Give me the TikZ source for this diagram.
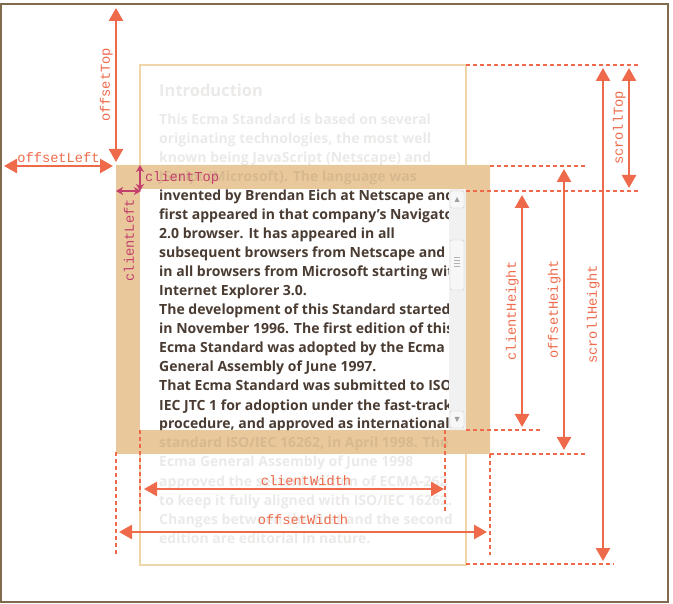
\documentclass[tikz,border=0pt]{standalone}
\usepackage{fontspec}
\setmainfont{Open Sans}
\newfontfamily\labelfont{Liberation Mono}
\usetikzlibrary{arrows.meta}
\definecolor{coral}{RGB}{238,106,74}
\definecolor{crimson}{RGB}{196,64,108}
\definecolor{borderbeige}{RGB}{233,200,155}
\definecolor{frametan}{RGB}{238,214,170}
\definecolor{framebrown}{RGB}{128,106,78}
\definecolor{inktext}{RGB}{74,60,50}
\definecolor{barbg}{RGB}{241,241,241}
\definecolor{barline}{RGB}{204,204,204}

\newcommand{\ecmalines}[2]{%
  \foreach \ln [count=\i] in {{This Ecma Standard is based on several},
    {originating technologies, the most well},
    {known being JavaScript (Netscape) and},
    {JScript (Microsoft). The language was},
    {invented by Brendan Eich at Netscape and},
    {first appeared in that company’s Navigator},
    {2.0 browser. It has appeared in all},
    {subsequent browsers from Netscape and},
    {in all browsers from Microsoft starting with},
    {Internet Explorer 3.0.},
    {The development of this Standard started},
    {in November 1996. The first edition of this},
    {Ecma Standard was adopted by the Ecma},
    {General Assembly of June 1997.},
    {That Ecma Standard was submitted to ISO/},
    {IEC JTC 1 for adoption under the fast-track},
    {procedure, and approved as international},
    {standard ISO/IEC 16262, in April 1998. The},
    {Ecma General Assembly of June 1998},
    {approved the second edition of ECMA-262},
    {to keep it fully aligned with ISO/IEC 16262.},
    {Changes between the first and the second},
    {edition are editorial in nature.}}
    \node[textline,#1] (#2\i) at (159,{106+19*\i}) {\ln};%
}

\begin{document}
\begin{tikzpicture}[x=1pt,y=-1pt,
    textline/.style={anchor=base west,inner sep=0pt,font=\fontsize{14}{16}\selectfont\bfseries},
    faded/.style={text=inktext,text opacity=0.11},
    dim/.style={coral,line width=2.5pt,{Triangle[length=13pt,width=14pt]}-{Triangle[length=13pt,width=14pt]}},
    clientdim/.style={crimson,line width=2pt,{Stealth[length=7pt,width=8pt,inset=2pt]}-{Stealth[length=7pt,width=8pt,inset=2pt]}},
    guide/.style={coral,line width=2pt,dash pattern=on 4pt off 3pt},
    dimlabel/.style={font=\labelfont\fontsize{13.7}{15}\selectfont,inner sep=2pt}]
	\useasboundingbox (0,0) rectangle (673,604);
	\draw[framebrown,line width=2pt] (1,4) rectangle (668,602);
	\coordinate (offNW) at (116,165);
	\coordinate (offSE) at (490,454);
	\coordinate (cliNW) at (140,189);
	\coordinate (cliSE) at (466,430);
	\coordinate (scrNW) at (140,65);
	\coordinate (scrSE) at (466,565);
	\draw[frametan,line width=2pt] (scrNW) rectangle (scrSE);
	\fill[borderbeige,even odd rule] (offNW) rectangle (offSE) (cliNW) rectangle (cliSE);
	\node[anchor=base west,inner sep=0pt,faded,font=\fontsize{16.5}{18}\selectfont\bfseries] (heading) at (159,97) {Introduction};
	\ecmalines{faded}{fade}
	\begin{scope}
		\clip (cliNW) rectangle (cliSE);
		\fill[white] (cliNW) rectangle (cliSE);
		\ecmalines{text=inktext}{ink}
	\end{scope}
	\fill[barbg] (449,189) rectangle (466,430);
	\draw[barline,fill=white!97!black,rounded corners=2pt] (450,191) rectangle (464,208);
	\fill[gray!75] (454.5,202) -- (459.5,202) -- (457,197) -- cycle;
	\draw[barline,fill=white!97!black,rounded corners=2pt] (450,411) rectangle (464,428);
	\fill[gray!75] (454.5,417) -- (459.5,417) -- (457,422) -- cycle;
	\draw[barline,fill=white!97!black,rounded corners=2pt] (450,240) rectangle (464,290);
	\foreach \gy in {258,261,264,267}
		\draw[gray!60,line width=1pt] (454,\gy) -- (460,\gy);
	\draw[guide] (466,65) -- (640,65);
	\draw[guide] (490,166) -- (585,166);
	\draw[guide] (466,191) -- (640,191);
	\draw[guide] (466,430) -- (540,430);
	\draw[guide] (490,454) -- (585,454);
	\draw[guide] (466,564) -- (614,564);
	\draw[guide] (490,454) -- (490,555);
	\draw[guide] (140,430) -- (140,513);
	\draw[guide] (445,430) -- (445,513);
	\draw[guide] (116,452) -- (116,555);
	\coordinate (otTop) at (116,8);
	\coordinate (otBot) at (116,162);
	\coordinate (olLeft) at (4,166);
	\coordinate (olRight) at (113,166);
	\coordinate (ctTop) at (140,165);
	\coordinate (ctBot) at (140,191);
	\coordinate (clLeft) at (116,191);
	\coordinate (clRight) at (141,191);
	\coordinate (chTop) at (522,195);
	\coordinate (chBot) at (522,427);
	\coordinate (ohTop) at (564,169);
	\coordinate (ohBot) at (564,450);
	\coordinate (shTop) at (603,68);
	\coordinate (shBot) at (603,561);
	\coordinate (stTop) at (629,68);
	\coordinate (stBot) at (629,188);
	\coordinate (cwLeft) at (144,489);
	\coordinate (cwRight) at (444,489);
	\coordinate (owLeft) at (119,532);
	\coordinate (owRight) at (487,532);
	\draw[dim] (otBot) -- (otTop) node[dimlabel,midway,rotate=90,anchor=south,text=coral] (lblOffsetTop) {offsetTop};
	\draw[dim] (olLeft) -- (olRight) node[dimlabel,midway,above,text=coral] (lblOffsetLeft) {offsetLeft};
	\draw[clientdim] (ctTop) -- (ctBot) node[dimlabel,midway,right,xshift=2pt,text=crimson] (lblClientTop) {clientTop};
	\draw[clientdim] (clLeft) -- (clRight);
	\node[dimlabel,rotate=90,anchor=east,text=crimson] (lblClientLeft) at (129,197) {clientLeft};
	\draw[dim] (chBot) -- (chTop) node[dimlabel,midway,rotate=90,anchor=south,text=coral] (lblClientHeight) {clientHeight};
	\draw[dim] (ohBot) -- (ohTop) node[dimlabel,midway,rotate=90,anchor=south,text=coral] (lblOffsetHeight) {offsetHeight};
	\draw[dim] (shBot) -- (shTop) node[dimlabel,midway,rotate=90,anchor=south,text=coral] (lblScrollHeight) {scrollHeight};
	\draw[dim] (stBot) -- (stTop) node[dimlabel,midway,rotate=90,anchor=south,text=coral] (lblScrollTop) {scrollTop};
	\draw[dim] (cwLeft) -- (cwRight) node[dimlabel,midway,above,xshift=12pt,text=coral] (lblClientWidth) {clientWidth};
	\draw[dim] (owLeft) -- (owRight) node[dimlabel,midway,above,yshift=4pt,text=coral] (lblOffsetWidth) {offsetWidth};
\end{tikzpicture}
\end{document}
